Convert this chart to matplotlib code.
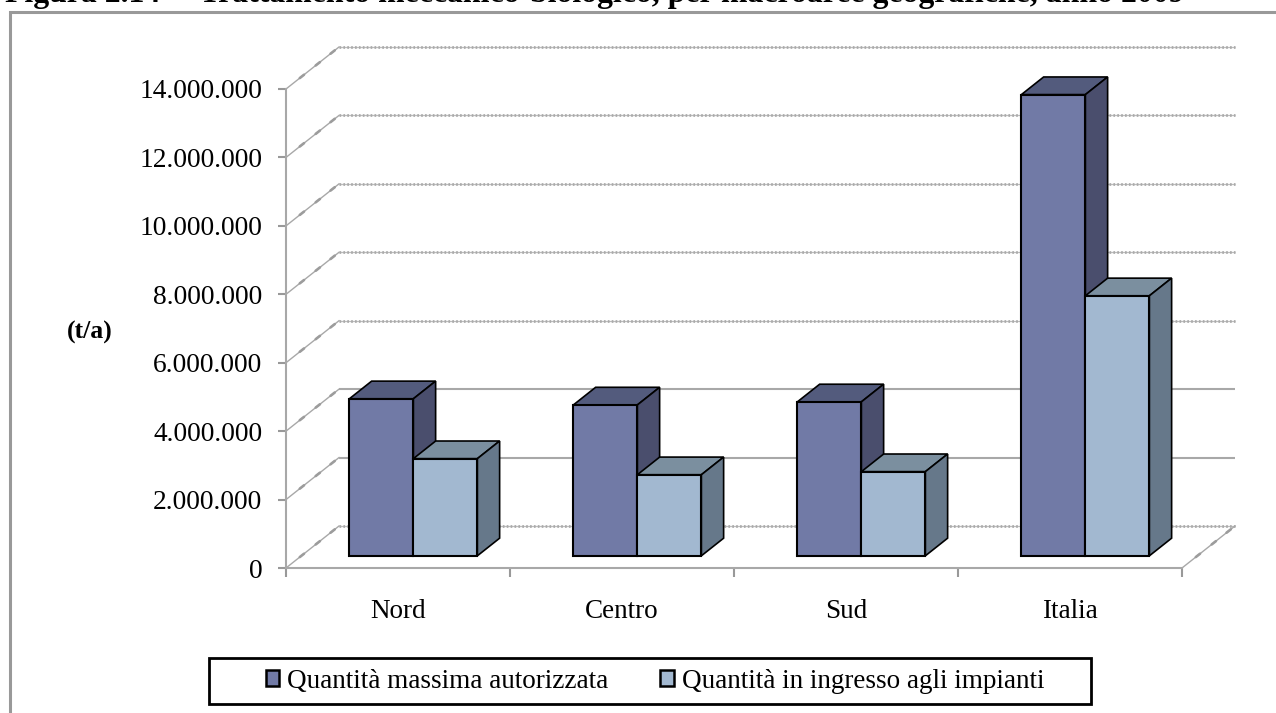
import matplotlib
matplotlib.use('Agg')
import matplotlib.pyplot as plt
from matplotlib.lines import Line2D
from matplotlib.patches import Patch, Polygon, Rectangle
from matplotlib.ticker import FuncFormatter

areas = ['Nord', 'Centro', 'Sud', 'Italia']
autorizzata = [4590000, 4410000, 4500000, 13480000]
ingresso = [2840000, 2370000, 2460000, 7600000]
y_ticks = [0, 2000000, 4000000, 6000000, 8000000, 10000000, 12000000, 14000000]
series_names = ['Quantità massima autorizzata', 'Quantità in ingresso agli impianti']
title = 'Figura 2.14 –  Trattamento meccanico-biologico, per macroaree geografiche, anno 2009'

W, H = 1276, 713
plt.rcParams['font.family'] = ['Liberation Serif', 'DejaVu Serif']

GREY = '#a8a8a8'
KNOT = '#9c9c9c'
FRONT = ['#717aa6', '#a2b8d0']
TOP = ['#535b7d', '#7b8f9f']
SIDE = ['#4a4e6d', '#66788a']


def fx(px):
	return px / W


def fy(px):
	return 1 - px / H


fig = plt.figure(figsize=(W / 100, H / 100), dpi=100)

# plot box of the front plane
left, right, top, bottom = 286, 1182, 89, 568
ax = fig.add_axes([fx(left), fy(bottom), (right - left) / W, (bottom - top) / H])
ax.set_xlim(0, 4)
ax.set_ylim(0, 14000000)
ax.patch.set_alpha(0)

# depth of the oblique view in data units
px_x = 4.0 / (right - left)
px_y = 14000000.0 / (bottom - top)
DX = 53 * px_x
DY = 42 * px_y
NEAR, FAR = 0.29, 0.71
BAR_W = 64 * px_x


def back_line(v):
	xs = [DX, 4 + DX]
	ys = [v + DY, v + DY]
	if v in (2000000, 4000000):
		ax.plot(xs, ys, color=GREY, lw=1.5, clip_on=False, zorder=1, solid_capstyle='butt')
	else:
		# frayed gridlines: thin solid core with a dotted pass over it
		ax.plot(xs, ys, color='#bcbcbc', lw=0.9, clip_on=False, zorder=1, solid_capstyle='butt')
		ax.plot(xs, ys, color='#ababab', lw=2.0, ls=(0, (0.6, 0.8)), clip_on=False, zorder=1)


def side_line(x0, v):
	ax.plot([x0, x0 + DX], [v, v + DY], color=GREY, lw=1.0, clip_on=False, zorder=1)
	# thicker knots along the side wall lines
	for a, b in [(0.26, 0.34), (0.56, 0.64), (0.84, 0.92)]:
		ax.plot([x0 + a * DX, x0 + b * DX], [v + a * DY, v + b * DY], color=KNOT, lw=1.9,
			clip_on=False, zorder=1, solid_capstyle='round')


for v in y_ticks:
	back_line(v)
	side_line(0, v)
side_line(4, 0)


def draw_box(x0, value, s):
	x1 = x0 + BAR_W
	base = NEAR * DY
	d = (FAR - NEAR)
	z = 3 + x0 + s * 0.1
	ax.bar(x0, value, BAR_W, bottom=base, align='edge', color=FRONT[s], edgecolor='black',
		linewidth=1.5, clip_on=False, zorder=z + 0.02)
	y_top = base + value
	top_face = [(x0, y_top), (x1, y_top), (x1 + d * DX, y_top + d * DY), (x0 + d * DX, y_top + d * DY)]
	side_face = [(x1, base), (x1 + d * DX, base + d * DY), (x1 + d * DX, y_top + d * DY), (x1, y_top)]
	ax.add_patch(Polygon(top_face, closed=True, fc=TOP[s], ec='black', lw=1.2, clip_on=False, zorder=z))
	ax.add_patch(Polygon(side_face, closed=True, fc=SIDE[s], ec='black', lw=1.2, clip_on=False, zorder=z))


for i in range(len(areas)):
	mid = i + 0.5 + NEAR * DX
	draw_box(mid - BAR_W, autorizzata[i], 0)
	draw_box(mid, ingresso[i], 1)

for side in ['top', 'right']:
	ax.spines[side].set_visible(False)
for side in ['left', 'bottom']:
	ax.spines[side].set_color(GREY)
	ax.spines[side].set_linewidth(1.5)

ax.set_yticks(y_ticks)
ax.yaxis.set_major_formatter(FuncFormatter(lambda v, pos: f'{int(v):,}'.replace(',', '.')))
ax.tick_params(axis='y', direction='out', length=6, width=1.5, color='#999999', pad=11, labelsize=19.8)
ax.set_xticks(range(5))
ax.set_xticklabels([])
ax.tick_params(axis='x', which='major', direction='out', length=6.5, width=1.5, color='#999999')
ax.set_xticks([i + 0.5 for i in range(4)], minor=True)
ax.set_xticklabels(areas, minor=True)
ax.tick_params(axis='x', which='minor', length=0, pad=22, labelsize=19.5)

fig.text(fx(90), fy(332), '(t/a)', fontsize=18.5, fontweight='bold', ha='center', va='center')
fig.text(fx(5), fy(2), title, fontsize=22.9, fontweight='bold', ha='left', va='baseline')

# outer frame runs off the page on the right and at the bottom
fig.add_artist(Line2D([fx(10), fx(10), 1], [0, fy(12), fy(12)], color='#999999', lw=2.2,
	solid_joinstyle='miter'))

# legend box
fig.add_artist(Rectangle((fx(209), fy(704)), (1091 - 209) / W, (704 - 658) / H, fc='white', ec='black',
	lw=2.0, transform=fig.transFigure))
handles = [Patch(fc=FRONT[k], ec='black', lw=1.8) for k in range(2)]
fig.legend(handles, series_names, loc='center', bbox_to_anchor=(fx(655), fy(681)), ncol=2, frameon=False,
	fontsize=19.5, handlelength=0.5, handleheight=0.55, handletextpad=0.3, columnspacing=1.9)

fig.savefig('out.png', dpi=100)
